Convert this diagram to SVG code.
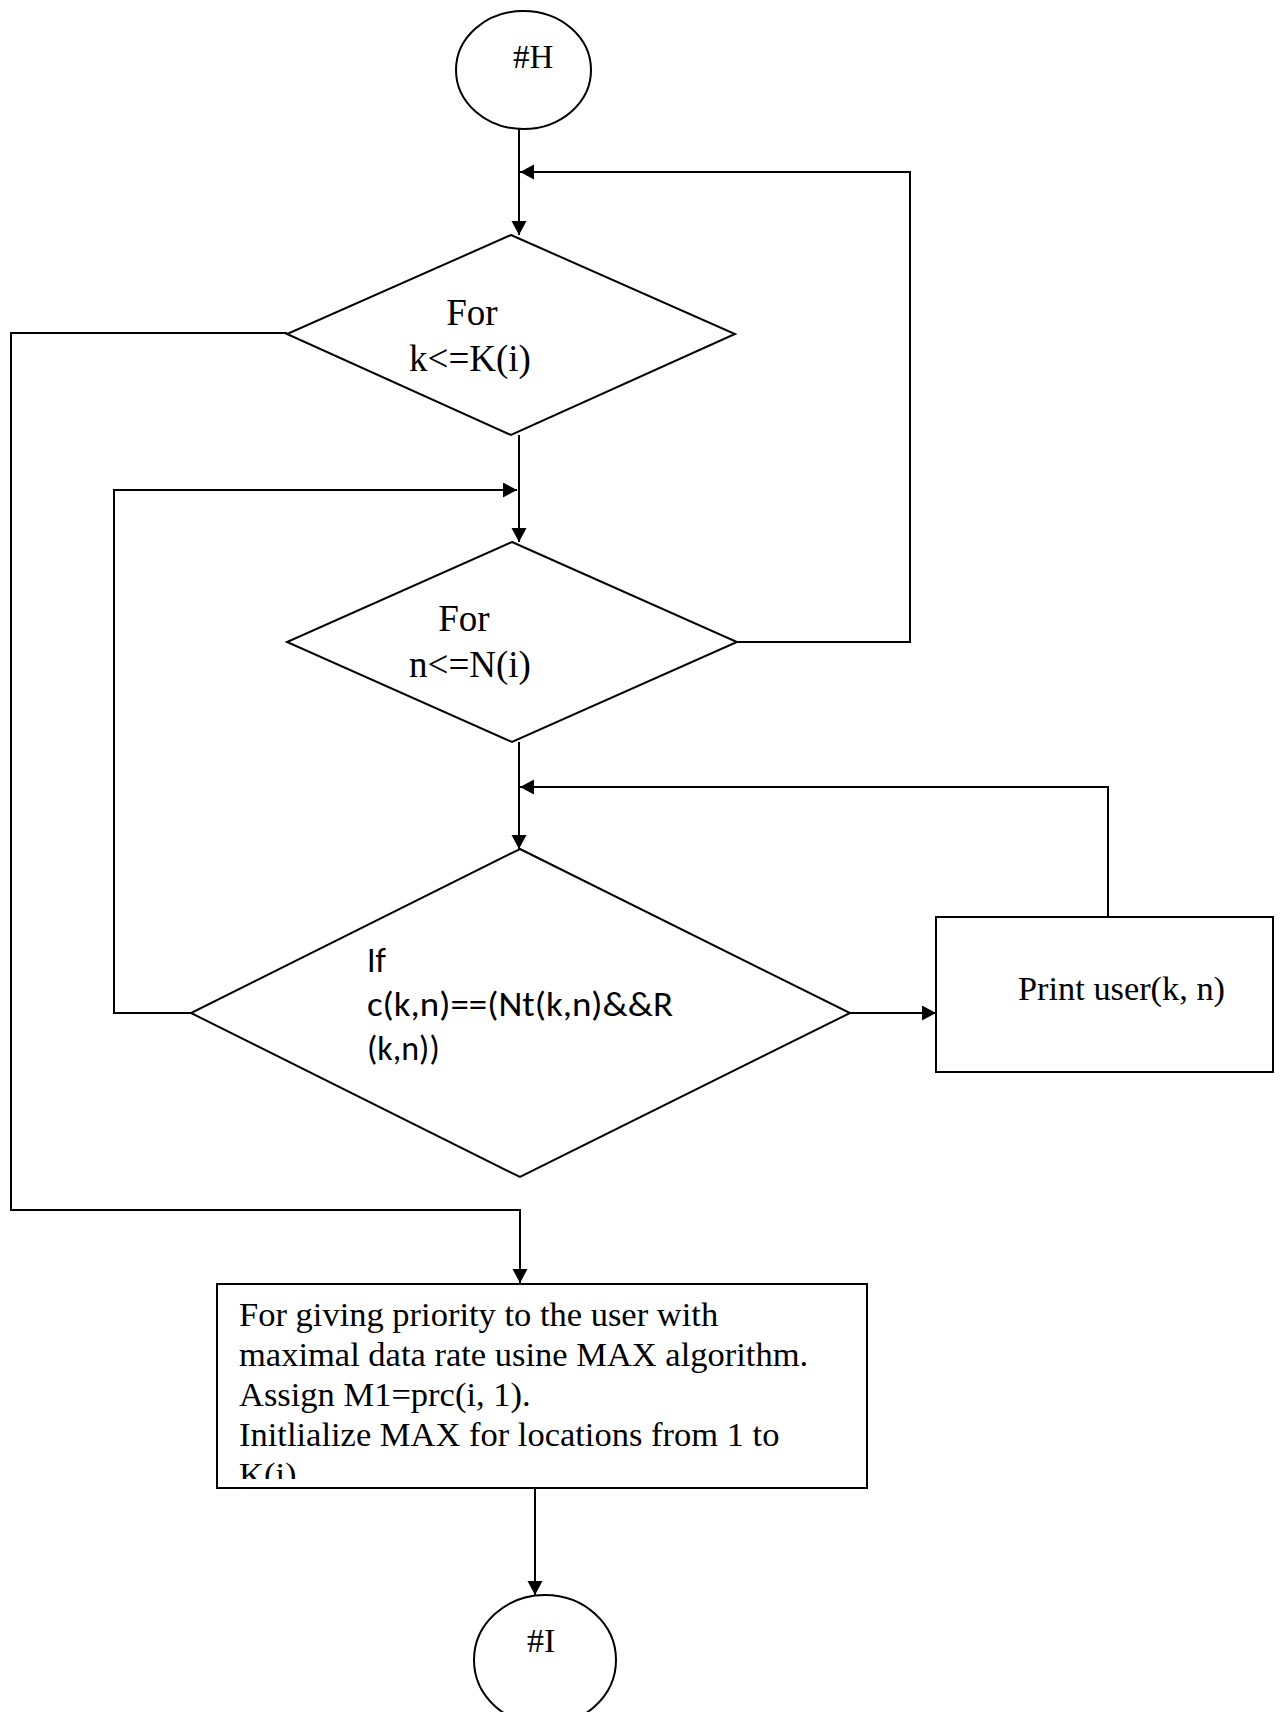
<svg xmlns="http://www.w3.org/2000/svg" width="1282" height="1712" viewBox="0 0 1282 1712">
  <style>
    .shape { fill: #ffffff; stroke: #000000; stroke-width: 2; }
    .conn { fill: none; stroke: #000000; stroke-width: 2; }
    .serif { font-family: "Liberation Serif", "Times New Roman", serif; fill: #000000; }
    .sans { font-family: Carlito, Lato, "Liberation Sans", sans-serif; fill: #000000; }
  </style>
  <defs>
    <marker id="arrow" markerWidth="15" markerHeight="16" refX="14" refY="7.5" orient="auto" markerUnits="userSpaceOnUse">
      <path d="M0,0 L14,7.5 L0,15 Z" fill="#000000"/>
    </marker>
    <clipPath id="boxclip">
      <rect x="217" y="1284" width="650" height="195"/>
    </clipPath>
  </defs>

  <rect width="1282" height="1712" fill="#ffffff"/>

  <g id="connectors">
    <path class="conn" d="M519,129 V235" marker-end="url(#arrow)"/>
    <path class="conn" d="M737,642 H910 V172 H520" marker-end="url(#arrow)"/>
    <path class="conn" d="M519,435 V542" marker-end="url(#arrow)"/>
    <path class="conn" d="M191,1013 H114 V490 H517" marker-end="url(#arrow)"/>
    <path class="conn" d="M519,742 V849" marker-end="url(#arrow)"/>
    <path class="conn" d="M1108,917 V787 H520" marker-end="url(#arrow)"/>
    <path class="conn" d="M850,1013 H936" marker-end="url(#arrow)"/>
    <path class="conn" d="M287,333 H11 V1210 H520 V1283" marker-end="url(#arrow)"/>
    <path class="conn" d="M535,1488 V1595" marker-end="url(#arrow)"/>
  </g>

  <g id="start-H">
    <ellipse class="shape" cx="523.5" cy="70" rx="67.5" ry="59"/>
    <text class="serif" x="513" y="68" font-size="33">#H</text>
  </g>

  <g id="loop-k">
    <polygon class="shape" points="511,235 735,334 511,435 287,334"/>
    <text class="serif" x="472" y="325" font-size="37" text-anchor="middle">For</text>
    <text class="serif" x="470" y="371" font-size="37" text-anchor="middle">k&lt;=K(i)</text>
  </g>

  <g id="loop-n">
    <polygon class="shape" points="512,542 737,642 512,742 287,642"/>
    <text class="serif" x="464" y="631" font-size="37" text-anchor="middle">For</text>
    <text class="serif" x="470" y="677" font-size="37" text-anchor="middle">n&lt;=N(i)</text>
  </g>

  <g id="if-condition">
    <polygon class="shape" points="520,849 850,1013 520,1177 191,1013"/>
    <text class="sans" x="367" y="972" font-size="34">If</text>
    <text class="sans" x="367" y="1016" font-size="34" textLength="306" lengthAdjust="spacingAndGlyphs">c(k,n)==(Nt(k,n)&amp;&amp;R</text>
    <text class="sans" x="367" y="1060" font-size="34">(k,n))</text>
  </g>

  <g id="print-user">
    <rect class="shape" x="936" y="917" width="337" height="155"/>
    <text class="serif" x="1018" y="1000" font-size="34" textLength="207" lengthAdjust="spacingAndGlyphs">Print user(k, n)</text>
  </g>

  <g id="max-box">
    <rect class="shape" x="217" y="1284" width="650" height="204"/>
    <g clip-path="url(#boxclip)" class="serif" font-size="34.5">
      <text x="239" y="1326">For giving priority to the user with</text>
      <text x="239" y="1366">maximal data rate usine MAX algorithm.</text>
      <text x="239" y="1406">Assign M1=prc(i, 1).</text>
      <text x="239" y="1446">Initlialize MAX for locations from 1 to</text>
      <text x="239" y="1486">K(i)</text>
    </g>
  </g>

  <g id="end-I">
    <ellipse class="shape" cx="545" cy="1660" rx="71" ry="65"/>
    <text class="serif" x="527" y="1652" font-size="34">#I</text>
  </g>
</svg>
